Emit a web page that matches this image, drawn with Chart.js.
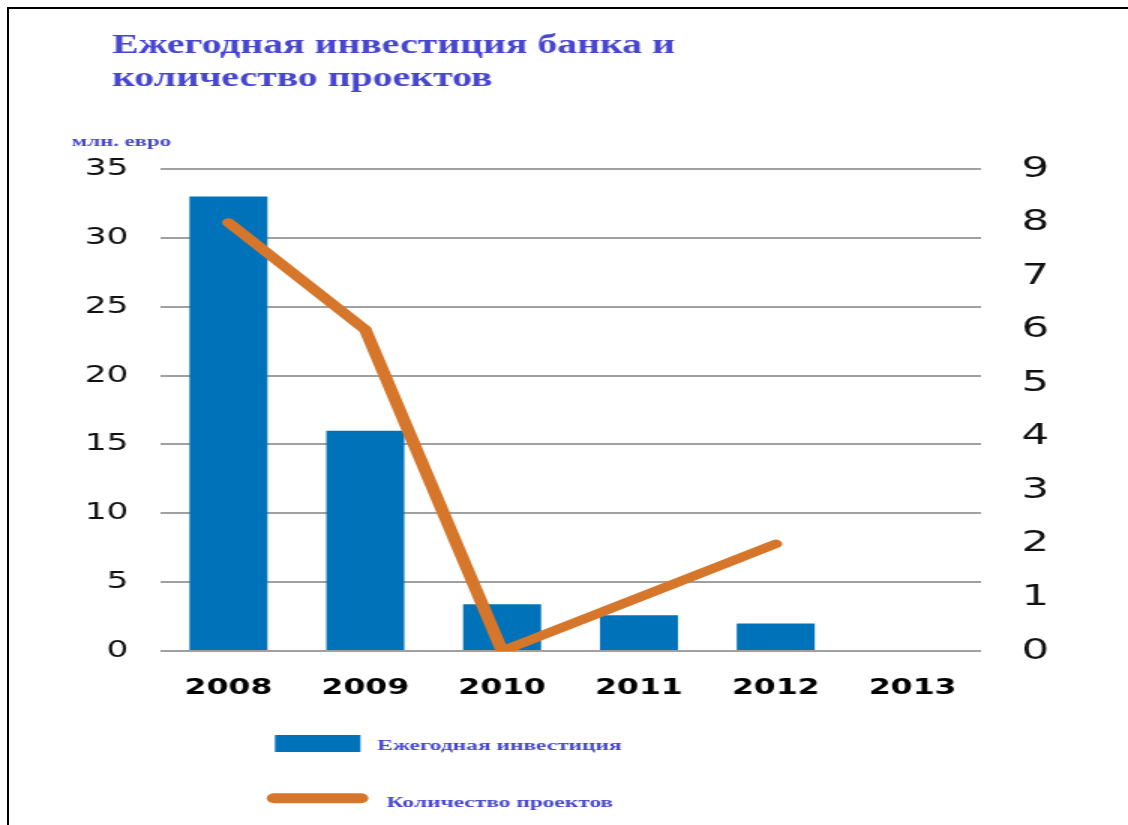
<!DOCTYPE html>
<html>
<head>
<meta charset="utf-8">
<script src="https://cdn.jsdelivr.net/npm/chart.js@4"></script>
<style>
  body { margin: 0; background: #fff; overflow: hidden; }
  #wrap { position: absolute; left: 0; top: 0; width: 752px; height: 825px; transform: scaleX(1.5); transform-origin: 0 0; }
  #frame { position: absolute; left: 7px; top: 7px; width: 1140px; height: 840px; border-top: 2px solid #000; border-left: 2px solid #000; pointer-events: none; }
</style>
</head>
<body>
<div id="wrap"><canvas id="chart" width="752" height="825"></canvas></div>
<div id="frame"></div>
<script>
// data
const years = ["2008", "2009", "2010", "2011", "2012", "2013"];
const investment = [33.0, 16.0, 3.4, 2.6, 2.0, null]; // млн. евро
const projects = [8, 6, 0, 1, 2, null];

const titleLines = ["Ежегодная инвестиция банка и", "количество проектов"];
const unitLabel = "млн. евро";
const barLabel = "Ежегодная инвестиция";
const lineLabel = "Количество проектов";

const textColor = "#4646d0";
const barColor = "#0072b9";
const lineColor = "#d5762b";

// title, unit and legend drawn straight on the canvas
const textPlugin = {
  id: "texts",
  afterDraw(chart) {
    const c = chart.ctx;
    c.save();
    c.fillStyle = textColor;
    c.textBaseline = "alphabetic";
    c.font = "bold 26.5px 'Liberation Serif'";
    c.fillText(titleLines[0], 74.7, 53);
    c.fillText(titleLines[1], 74.7, 86);

    c.font = "bold 15.2px 'Liberation Serif'";
    c.fillText(unitLabel, 47.8, 146);

    // legend
    c.fillStyle = barColor;
    c.fillRect(183.3, 735, 57, 17);
    c.strokeStyle = lineColor;
    c.lineWidth = 10;
    c.lineCap = "round";
    c.beginPath();
    c.moveTo(182.8, 798.3);
    c.lineTo(240.6, 798.3);
    c.stroke();

    c.fillStyle = textColor;
    c.font = "bold 15.6px 'Liberation Serif'";
    c.fillText(barLabel, 251.5, 750);
    c.fillText(lineLabel, 257.8, 807);
    c.restore();
  }
};

new Chart(document.getElementById("chart"), {
  type: "bar",
  data: {
    labels: years,
    datasets: [
      {
        type: "line",
        label: lineLabel,
        data: projects,
        yAxisID: "y1",
        borderColor: lineColor,
        borderWidth: 8.6,
        borderCapStyle: "round",
        borderJoinStyle: "miter",
        pointRadius: 0,
        tension: 0,
        order: 0
      },
      {
        label: barLabel,
        data: investment,
        yAxisID: "y",
        backgroundColor: barColor,
        categoryPercentage: 1,
        barPercentage: 0.57,
        order: 1
      }
    ]
  },
  options: {
    responsive: false,
    animation: false,
    layout: { padding: { top: 169, left: 0, right: 0, bottom: 0 } },
    plugins: {
      legend: { display: false },
      tooltip: { enabled: false }
    },
    scales: {
      x: {
        grid: { display: false },
        border: { display: false },
        ticks: {
          color: "#000",
          padding: 17,
          font: { family: "'DejaVu Sans'", size: 21, weight: "bold" }
        },
        afterFit(scale) { scale.height = 174; }
      },
      y: {
        position: "left",
        min: 0,
        max: 35,
        grid: { color: "#a0a0a0", lineWidth: 2, drawTicks: false },
        border: { display: false },
        ticks: {
          stepSize: 5,
          color: "#111",
          padding: 21,
          font: { family: "'DejaVu Sans'", size: 23 }
        },
        afterFit(scale) { scale.width = 106.7; }
      },
      y1: {
        position: "right",
        min: 0,
        max: 9,
        grid: { drawOnChartArea: false, drawTicks: false },
        border: { display: false },
        ticks: {
          stepSize: 1,
          color: "#111",
          padding: 27,
          font: { family: "'DejaVu Sans'", size: 29 }
        },
        afterFit(scale) { scale.width = 98; }
      }
    }
  },
  plugins: [textPlugin]
});
</script>
</body>
</html>
